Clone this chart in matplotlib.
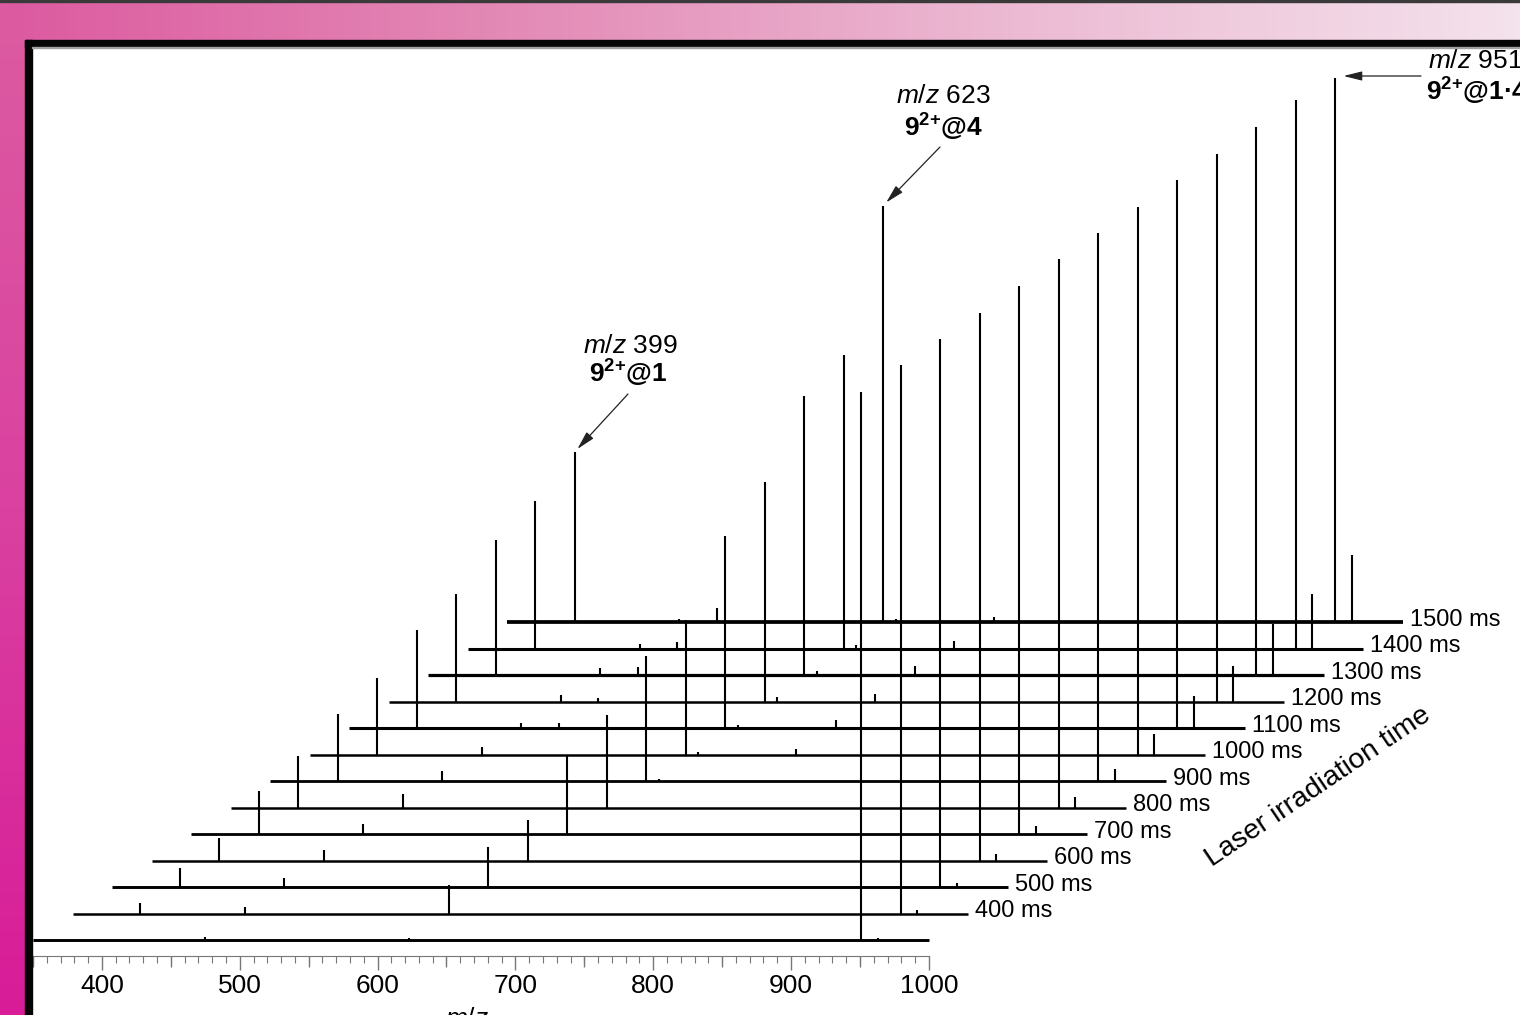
import numpy as np
import matplotlib.pyplot as plt
from matplotlib.patches import Rectangle

plt.rcParams['font.family'] = ['Liberation Sans', 'DejaVu Sans']
plt.rcParams['mathtext.fontset'] = 'custom'
plt.rcParams['mathtext.rm'] = 'Liberation Sans'
plt.rcParams['mathtext.it'] = 'Liberation Sans:italic'
plt.rcParams['mathtext.bf'] = 'Liberation Sans:bold'

# laser irradiation time of each trace, front (bottom) trace first; front one is unlabelled
trace_labels = ["", "400 ms", "500 ms", "600 ms", "700 ms", "800 ms", "900 ms",
                "1000 ms", "1100 ms", "1200 ms", "1300 ms", "1400 ms", "1500 ms"]

# peak positions (m/z) and relative intensities (% of m/z 951) in each trace
peak_mz = [399, 475, 502, 623, 632, 703, 951, 963]
int_399 = [0.0, 1.95, 3.4, 4.1, 7.8, 9.4, 12.2, 14.0, 17.9, 19.7, 24.6, 27.0, 31.0]
int_475 = [0.5, 1.2, 1.7, 1.95, 1.9, 2.4, 1.9, 1.4, 1.0, 1.2, 1.3, 0.9, 0.6]
int_502 = [0.0, 0.0, 0.0, 0.0, 0.0, 0.0, 0.0, 0.0, 0.85, 0.7, 1.4, 1.1, 2.5]
int_623 = [0.3, 5.2, 7.3, 7.4, 14.2, 16.8, 22.8, 24.5, 35.0, 40.0, 51.0, 53.5, 76.0]
int_632 = [0.0, 0.0, 0.0, 0.0, 0.0, 0.0, 0.3, 0.5, 0.6, 0.8, 0.8, 0.6, 0.5]
int_703 = [0.0, 0.0, 0.0, 0.0, 0.0, 0.0, 0.0, 1.0, 1.4, 1.4, 1.6, 1.3, 1.0]
int_951 = [100.0] * 12 + [99.3]
int_963 = [0.4, 0.6, 0.7, 1.1, 1.5, 1.9, 2.2, 3.8, 5.8, 6.4, 9.3, 10.0, 12.2]
peak_int = [int_399, int_475, int_502, int_623, int_632, int_703, int_951, int_963]

# annotated ions on the 1500 ms trace
annot_mz = [399, 623, 951]
annot_top = [r"$\mathit{m/z}$ 399", r"$\mathit{m/z}$ 623", r"$\mathit{m/z}$ 951"]
annot_bot = [r"$\mathbf{9}^{\mathbf{2}{\mathbf{+}}}$@1",
             r"$\mathbf{9}^{\mathbf{2}{\mathbf{+}}}$@4",
             r"$\mathbf{9}^{\mathbf{2}{\mathbf{+}}}$@1·4"]

W, H = 1520, 1015
PX_MZ = 1.3783     # pixels per m/z unit
PX_PCT = 5.48      # pixels per % intensity
X350, YBASE = 33, 940


def to_data(xp, yp):
    return 350 + (xp - X350) / PX_MZ, (YBASE - yp) / PX_PCT


dx = 39.5 / PX_MZ   # waterfall shift per trace
dy = 26.5 / PX_PCT
trace_lw = [2.1, 1.8, 2.1, 1.8, 2.0, 1.8, 2.0, 1.8, 2.2, 1.8, 2.3, 2.2, 2.7]

fig = plt.figure(figsize=(W / 100, H / 100), dpi=100, facecolor='white')
ax = fig.add_axes([0, 0, 1, 1])
ax.set_xlim(to_data(0, 0)[0], to_data(W, 0)[0])
ax.set_ylim(to_data(0, H)[1], to_data(0, 0)[1])

for i in range(len(trace_labels)):
    base = i * dy
    x0 = 350 + i * dx
    ax.hlines(base, x0, x0 + 650, color='black', lw=trace_lw[i])
    for mz, vals in zip(peak_mz, peak_int):
        if vals[i] > 0:
            ax.vlines(mz + i * dx, base, base + vals[i], color='black', lw=1.5)
    if trace_labels[i]:
        ax.text(1000 + i * dx + 5, base - 0.7, trace_labels[i], fontsize=17,
                va='baseline', ha='left')

# annotations of the last (1500 ms) trace
last = len(trace_labels) - 1
top_pos = [(630, 353), (943, 103), (1428, 68)]
bot_pos = [(628, 383), (943, 137), (1426, 101)]
arrow_from = [(628, 394), (940, 147), (1421, 76)]
for k, mz in enumerate(annot_mz):
    vals = peak_int[peak_mz.index(mz)]
    px, py = mz + last * dx, last * dy + vals[last]
    ha = 'left' if k == 2 else 'center'
    ax.text(*to_data(*top_pos[k]), annot_top[k], fontsize=19, ha=ha, va='baseline')
    ax.text(*to_data(*bot_pos[k]), annot_bot[k], fontsize=19, ha=ha, va='baseline',
            fontweight='bold')
    start = to_data(*arrow_from[k])
    if k == 2:
        target = (px + 4 / PX_MZ, start[1])
    else:
        target = (px, py)
    ax.annotate('', xy=target, xytext=start,
                arrowprops=dict(arrowstyle='-|>,head_length=0.8,head_width=0.2',
                                color='#222222', lw=0.9, shrinkA=0, shrinkB=3,
                                mutation_scale=14))

ax.text(*to_data(1212, 867), "Laser irradiation time", fontsize=20.5, rotation=34,
        rotation_mode='anchor', ha='left', va='baseline')

# m/z axis under the front trace
spine_y = to_data(0, 956)[1]
for s in ['top', 'right', 'left']:
    ax.spines[s].set_visible(False)
ax.spines['bottom'].set_position(('data', spine_y))
ax.spines['bottom'].set_bounds(350, 1000)
ax.spines['bottom'].set_color('#777777')
ax.set_yticks([])
ax.set_xticks(np.arange(400, 1001, 100))
ax.set_xticks(np.arange(350, 1001, 10), minor=True)
ax.tick_params(axis='x', which='major', length=10, width=1, color='#777777',
               labelsize=19, pad=3)
ax.tick_params(axis='x', which='minor', length=5, width=0.8, color='#777777')
y0, y1 = ax.get_ylim()
sec = ax.secondary_xaxis((spine_y - y0) / (y1 - y0))
sec.set_xticks(np.arange(350, 1000, 100), labels=[''] * 7)
sec.tick_params(length=8, width=1, color='#777777')
sec.spines['bottom'].set_visible(False)

# axis title sits mostly below the bottom edge of the picture
fig.text(467 / W, 1 - 1026 / H, r"$\mathit{m/z}$", fontsize=19, ha='center',
         va='baseline')

# page decoration: pink gradient bands and black frame
def grad(stops, n):
    pos = np.linspace(0, 1, len(stops))
    t = np.linspace(0, 1, n)
    cols = np.array([[int(c[j:j + 2], 16) / 255 for j in (1, 3, 5)] for c in stops])
    return np.stack([np.interp(t, pos, cols[:, j]) for j in range(3)], axis=-1)

top_band = fig.add_axes([0, 1 - 40 / H, 1, 40 / H], zorder=3)
top_band.imshow(grad(['#DC5AA0', '#E38AB6', '#ECBAD3', '#F4E2EC'], 300)[None, :, :],
                aspect='auto', extent=[0, 1, 0, 1])
top_band.axis('off')
left_band = fig.add_axes([0, 0, 25 / W, 1 - 40 / H], zorder=3)
left_band.imshow(grad(['#DC5AA0', '#DA40A0', '#D81C98'], 200)[:, None, :],
                 aspect='auto', extent=[0, 1, 0, 1])
left_band.axis('off')

fig.patches.append(Rectangle((0, 1 - 1.5 / H), 1, 1.5 / H, transform=fig.transFigure,
                             color='#3a3a3a', zorder=4))
fig.patches.append(Rectangle((25 / W, 0), 7 / W, 1 - 40 / H, transform=fig.transFigure,
                             color='#050505', zorder=4))
fig.patches.append(Rectangle((25 / W, 1 - 47 / H), 1, 7 / H, transform=fig.transFigure,
                             color='#050505', zorder=4))
fig.patches.append(Rectangle((32 / W, 1 - 48 / H), 1, 1 / H, transform=fig.transFigure,
                             color='#a0a0a0', zorder=4))

fig.savefig('out.png', dpi=100)
